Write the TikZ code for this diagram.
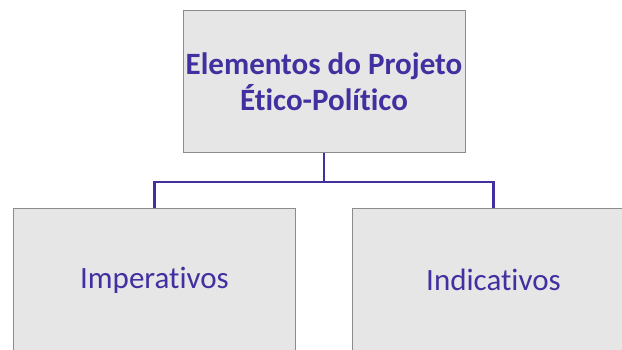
\documentclass[tikz,border=0pt]{standalone}
\usepackage{fontspec}
\setmainfont{Carlito}[Ligatures=NoCommon]
\definecolor{txtc}{RGB}{64,48,160}
\definecolor{boxfill}{RGB}{230,230,230}
\definecolor{boxline}{RGB}{140,140,140}
\tikzset{
  orgbox/.style={draw=boxline, line width=1pt, fill=boxfill, minimum width=282pt, minimum height=142pt, inner sep=0pt, text=txtc, align=center},
  link/.style={draw=txtc, line width=2.2pt}
}
\begin{document}
\begin{tikzpicture}[x=1pt,y=-1pt]
\useasboundingbox (0,0) rectangle (622,350);
\node[orgbox, font=\fontsize{31}{36}\selectfont\bfseries] (top) at (324,82) {Elementos do Projeto\\Ético-Político};
\node[orgbox, font=\fontsize{31}{36}\selectfont] (left) at (154.5,280) {Imperativos};
\node[orgbox, font=\fontsize{31}{36}\selectfont] (right) at (493.5,280) {Indicativos};
\coordinate (mid) at (324,182);
\draw[link] (top.south) -- (mid) -| (left.north);
\draw[link] (mid) -| (right.north);
\end{tikzpicture}
\end{document}
